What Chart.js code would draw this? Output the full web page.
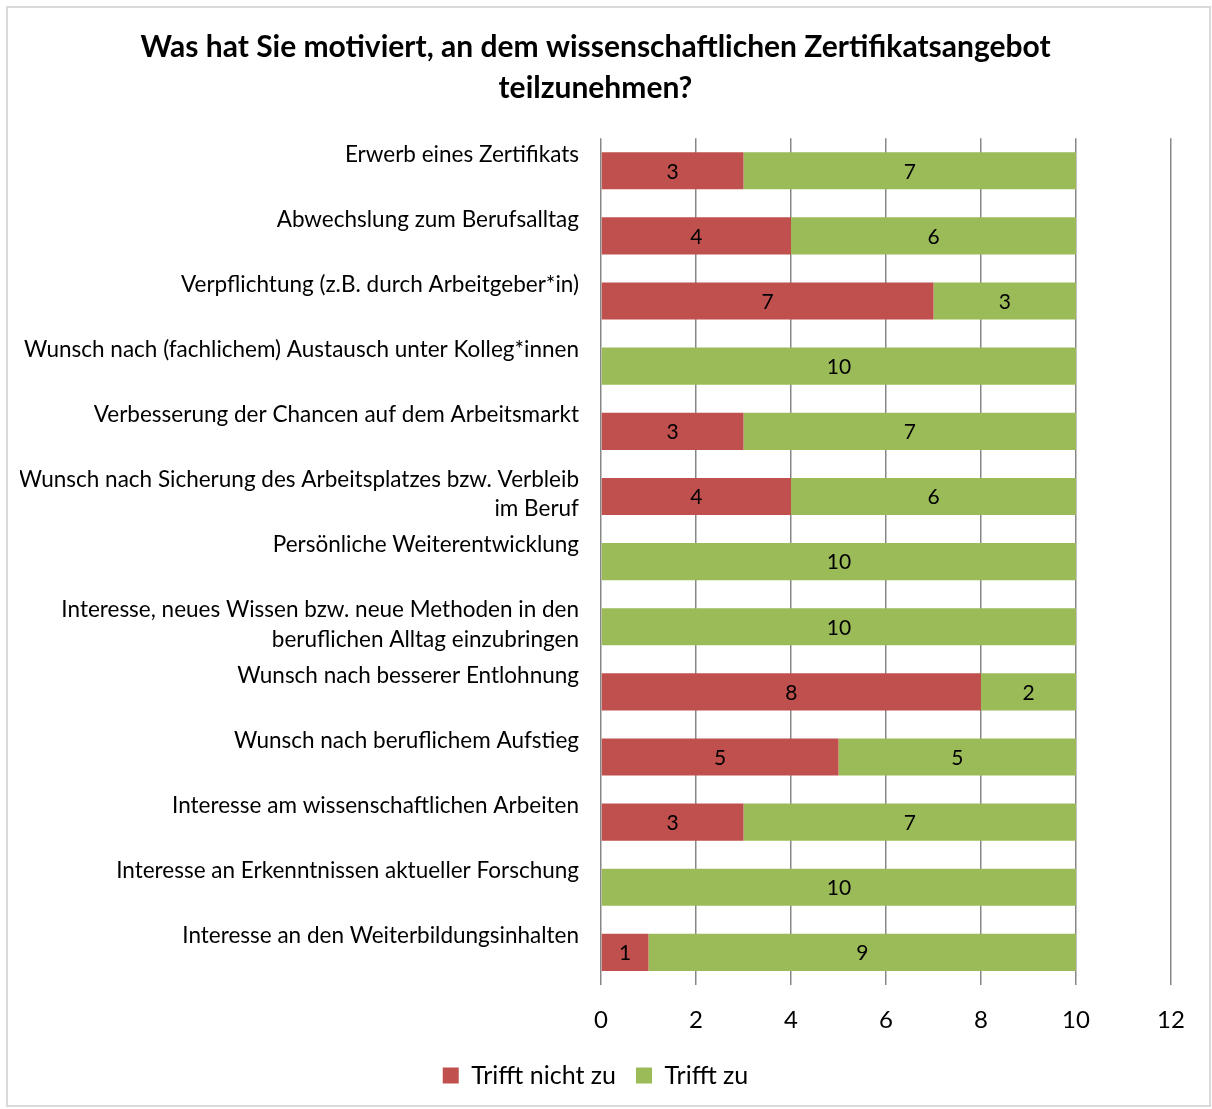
<!DOCTYPE html>
<html>
<head>
<meta charset="utf-8">
<script src="https://cdn.jsdelivr.net/npm/chart.js@4"></script>
<style>
  html, body { margin: 0; padding: 0; background: #fff; }
  #wrap { position: relative; width: 1212px; height: 1109px; }
</style>
</head>
<body>
<div id="wrap"><canvas id="myChart"></canvas></div>
<script>
const categories = [
  ["Erwerb eines Zertifikats", ""],
  ["Abwechslung zum Berufsalltag", ""],
  ["Verpflichtung (z.B. durch Arbeitgeber*in)", ""],
  ["Wunsch nach (fachlichem) Austausch unter Kolleg*innen", ""],
  ["Verbesserung der Chancen auf dem Arbeitsmarkt", ""],
  ["Wunsch nach Sicherung des Arbeitsplatzes bzw. Verbleib", "im Beruf"],
  ["Persönliche Weiterentwicklung", ""],
  ["Interesse, neues Wissen bzw. neue Methoden in den", "beruflichen Alltag einzubringen"],
  ["Wunsch nach besserer Entlohnung", ""],
  ["Wunsch nach beruflichem Aufstieg", ""],
  ["Interesse am wissenschaftlichen Arbeiten", ""],
  ["Interesse an Erkenntnissen aktueller Forschung", ""],
  ["Interesse an den Weiterbildungsinhalten", ""],
];
const triffNichtZu = [3, 4, 7, 0, 3, 4, 0, 0, 8, 5, 3, 0, 1];
const triffZu = [7, 6, 3, 10, 7, 6, 10, 10, 2, 5, 7, 10, 9];
const xTicks = [0, 2, 4, 6, 8, 10, 12];

const FONT = "Lato, 'Open Sans', sans-serif";

// draws the values inside the bars
const barLabels = {
  id: "barLabels",
  afterDatasetsDraw(chart) {
    const c = chart.ctx;
    c.save();
    c.font = "21px " + FONT;
    c.fillStyle = "#000";
    c.textAlign = "center";
    c.textBaseline = "middle";
    chart.data.datasets.forEach((ds, i) => {
      const meta = chart.getDatasetMeta(i);
      meta.data.forEach((el, j) => {
        const v = ds.data[j];
        if (!v) return;
        const p = el.getCenterPoint();
        c.fillText(v, p.x, p.y + 1);
      });
    });
    c.restore();
  },
};

// light frame around the whole chart
const frame = {
  id: "frame",
  beforeDraw(chart) {
    const c = chart.ctx;
    c.save();
    c.strokeStyle = "#d9d9d9";
    c.lineWidth = 2;
    c.strokeRect(7, 7, 1203, 1099);
    c.restore();
  },
};

new Chart(document.getElementById("myChart"), {
  type: "bar",
  data: {
    labels: categories,
    datasets: [
      {
        label: "Trifft nicht zu",
        data: triffNichtZu,
        backgroundColor: "#C0504D",
      },
      {
        label: "Trifft zu",
        data: triffZu,
        backgroundColor: "#9BBB59",
      },
    ],
  },
  plugins: [barLabels, frame],
  options: {
    indexAxis: "y",
    responsive: true,
    maintainAspectRatio: false,
    animation: false,
    categoryPercentage: 0.57,
    barPercentage: 1,
    layout: { padding: { top: 27, left: 20, right: 41, bottom: 11 } },
    plugins: {
      title: {
        display: true,
        text: [
          "Was hat Sie motiviert, an dem wissenschaftlichen Zertifikatsangebot",
          "teilzunehmen?",
        ],
        color: "#000",
        font: { family: FONT, size: 30, weight: "bold", lineHeight: 1.37 },
        padding: { top: 0, bottom: 29 },
      },
      legend: {
        position: "bottom",
        labels: {
          color: "#000",
          font: { family: FONT, size: 25 },
          boxWidth: 16,
          boxHeight: 16,
          padding: 20,
        },
      },
      tooltip: { enabled: false },
    },
    scales: {
      x: {
        stacked: true,
        min: 0,
        max: 12,
        afterBuildTicks(scale) {
          scale.ticks = xTicks.map((v) => ({ value: v }));
        },
        afterFit(scale) {
          scale.height = 58;
        },
        grid: { color: "#878787", lineWidth: 1.5, drawTicks: false },
        border: { display: false },
        ticks: {
          color: "#000",
          font: { family: FONT, size: 24 },
          padding: 21,
        },
      },
      y: {
        stacked: true,
        grid: { display: false, drawTicks: false },
        border: { display: false },
        afterFit(scale) {
          scale.width = 581;
        },
        ticks: {
          color: "#000",
          font: { family: FONT, size: 22.5, lineHeight: 1.29 },
          padding: 22,
          labelOffset: -2,
          autoSkip: false,
        },
      },
    },
  },
});
</script>
</body>
</html>
